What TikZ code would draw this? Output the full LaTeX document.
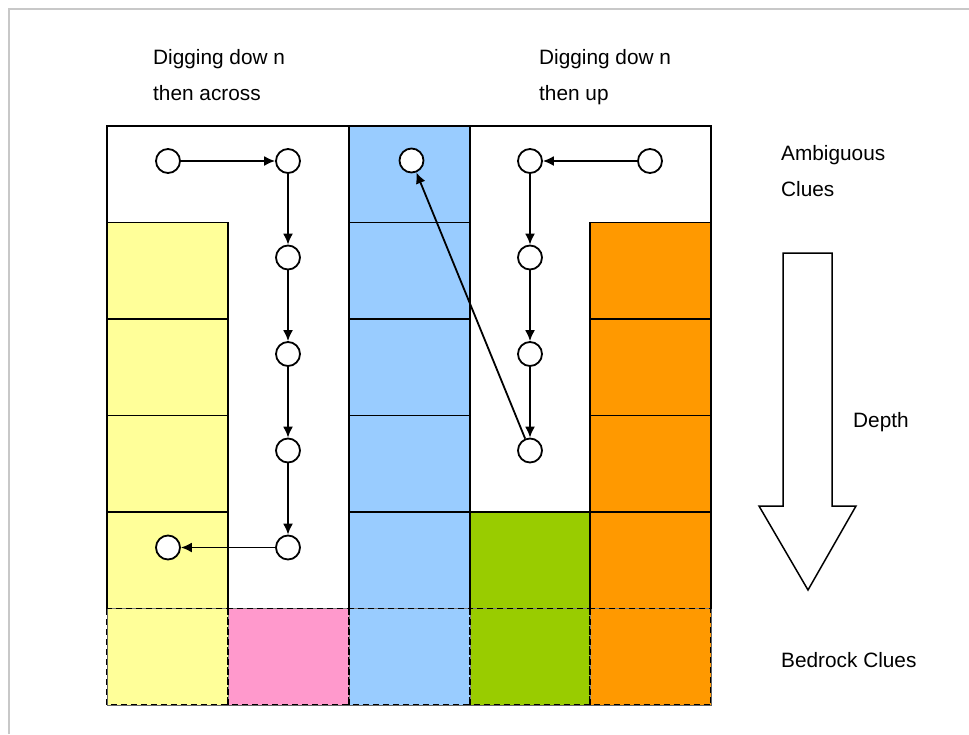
\documentclass[tikz,border=0pt]{standalone}
\usepackage{fontspec}
\setmainfont{Liberation Sans}
\usetikzlibrary{arrows.meta}
\definecolor{cyellow}{RGB}{255,255,153}
\definecolor{cpink}{RGB}{255,153,204}
\definecolor{cblue}{RGB}{153,204,255}
\definecolor{cgreen}{RGB}{153,204,0}
\definecolor{corange}{RGB}{255,153,0}
\definecolor{frame}{RGB}{200,200,200}
\begin{document}
\begin{tikzpicture}[x=1pt,y=-1pt,
  cell/.style={draw=black,line width=1.8pt},
  bedrock/.style={draw=black,line width=1.8pt,dash pattern=on 6pt off 4pt},
  dot/.style={circle,draw=black,fill=white,line width=1.8pt,minimum size=24pt,inner sep=0pt},
  link/.style={line width=1.8pt,-{Latex[length=11pt,width=10pt]}},
  lbl/.style={anchor=base west,inner sep=0pt,font=\fontsize{20.8}{24}\selectfont}]
\useasboundingbox (0,0) rectangle (969,734);
\fill[white] (0,0) rectangle (969,734);
\draw[frame,line width=2pt] (9,734) -- (9,9) -- (969,9);
% columns
\def\xa{107}\def\xb{228}\def\xc{349}\def\xd{470}\def\xe{590}\def\xf{711}
% rows
\def\ya{126}\def\yb{222.5}\def\yc{319}\def\yd{415.5}\def\ye{512}\def\yf{608.5}\def\yg{705}
% white background of the grid
\fill[white] (\xa,\ya) rectangle (\xf,\yf);
% yellow column
\foreach \t/\b in {\yb/\yc,\yc/\yd,\yd/\ye,\ye/\yf}
  \filldraw[cell,fill=cyellow] (\xa,\t) rectangle (\xb,\b);
% blue column
\foreach \t/\b in {\ya/\yb,\yb/\yc,\yc/\yd,\yd/\ye,\ye/\yf}
  \filldraw[cell,fill=cblue] (\xc,\t) rectangle (\xd,\b);
% green cell
\filldraw[cell,fill=cgreen] (\xd,\ye) rectangle (\xe,\yf);
% orange column
\foreach \t/\b in {\yb/\yc,\yc/\yd,\yd/\ye,\ye/\yf}
  \filldraw[cell,fill=corange] (\xe,\t) rectangle (\xf,\b);
% outer outline of upper part
\draw[cell] (\xa,\yf) -- (\xa,\ya) -- (\xf,\ya) -- (\xf,\yf);
% bedrock row
\foreach \l/\r/\c in {\xa/\xb/cyellow,\xb/\xc/cpink,\xc/\xd/cblue,\xd/\xe/cgreen,\xe/\xf/corange}{
  \fill[\c] (\l,\yf) rectangle (\r,\yg);
  \draw[black!50,line width=0.8pt] (\l,\yf) rectangle (\r,\yg);
  \draw[bedrock] (\l,\yf) rectangle (\r,\yg);
}
\draw[black!60,line width=1pt] (\xa,\yf) -- (\xa,\yg) -- (\xf,\yg) -- (\xf,\yf);
% left path nodes
\node[dot] (l1) at (168,161) {};
\node[dot] (l2) at (288,161) {};
\node[dot] (l3) at (288,257.5) {};
\node[dot] (l4) at (288,354) {};
\node[dot] (l5) at (288,450.5) {};
\node[dot] (l6) at (288,547.5) {};
\node[dot] (l7) at (168,547.5) {};
% middle node
\node[dot] (m1) at (411.5,160.5) {};
% right path nodes
\node[dot] (r1) at (650,161) {};
\node[dot] (r2) at (530,161) {};
\node[dot] (r3) at (530,257.5) {};
\node[dot] (r4) at (530,354) {};
\node[dot] (r5) at (530,450.5) {};
% connectors
\draw[link] (l1) -- (l2);
\draw[link] (l2) -- (l3);
\draw[link] (l3) -- (l4);
\draw[link] (l4) -- (l5);
\draw[link] (l5) -- (l6);
\draw[link] (l6) -- (l7);
\draw[link] (r1) -- (r2);
\draw[link] (r2) -- (r3);
\draw[link] (r3) -- (r4);
\draw[link] (r4) -- (r5);
\draw[link] (r5) -- (m1);
% depth arrow
\draw[line width=1.5pt,fill=white,line join=miter]
  (783,253) -- (832,253) -- (832,506) -- (856,506) -- (808,590) -- (759,506) -- (783,506) -- cycle;
% labels
\node[lbl] (t1a) at (153,64.5) {Digging dow n};
\node[lbl] (t1b) at (153,100) {then across};
\node[lbl] (t2a) at (539,64.5) {Digging dow n};
\node[lbl] (t2b) at (539,100) {then up};
\node[lbl] (t3a) at (781,160) {Ambiguous};
\node[lbl] (t3b) at (781,196) {Clues};
\node[lbl] (t4) at (853,427) {Depth};
\node[lbl] (t5) at (781,667) {Bedrock Clues};
\end{tikzpicture}
\end{document}
